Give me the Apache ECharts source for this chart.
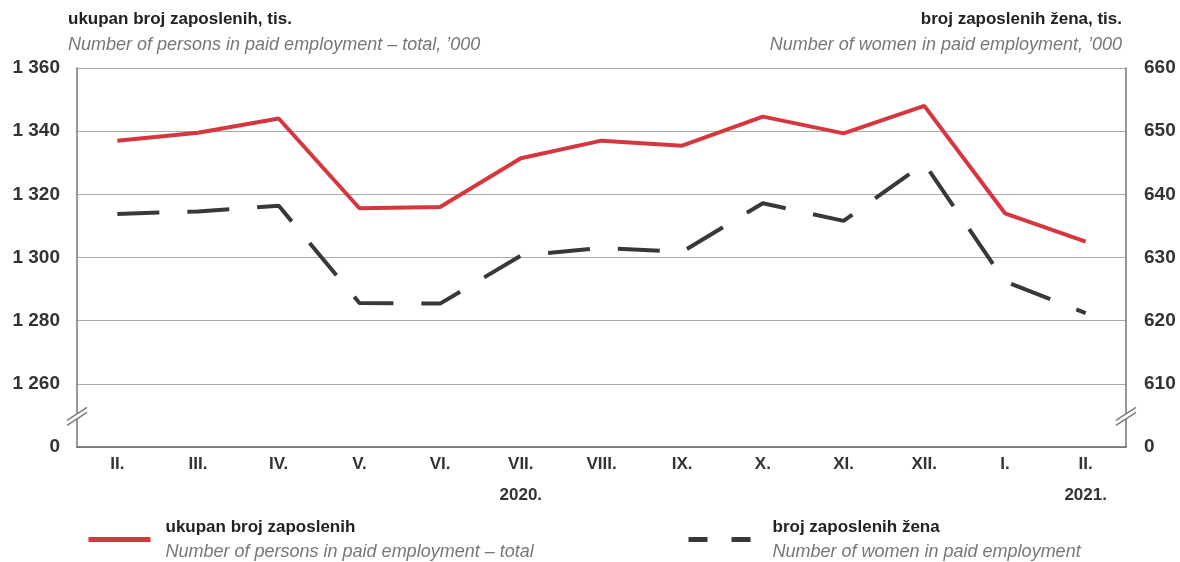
<!DOCTYPE html>
<html><head><meta charset="utf-8">
<script src="https://cdn.jsdelivr.net/npm/echarts@6/dist/echarts.min.js"></script>
<style>html,body{margin:0;padding:0;background:#fff}#c{width:1180px;height:562px}</style>
</head><body><div id="c"></div>
<script>
const periods = ['2020-02','2020-03','2020-04','2020-05','2020-06','2020-07','2020-08','2020-09','2020-10','2020-11','2020-12','2021-01','2021-02'];
const monthLabels = ['II.','III.','IV.','V.','VI.','VII.','VIII.','IX.','X.','XI.','XII.','I.','II.'];
const yearLabels = ['','','','','','2020.','','','','','','','2021.'];
const totalEmployed = [1337, 1339.5, 1344, 1315.6, 1316, 1331.4, 1337, 1335.4, 1344.6, 1339.3, 1348, 1314, 1305];
const womenEmployed = [636.9, 637.3, 638.2, 622.8, 622.7, 630.3, 631.5, 630.9, 638.6, 635.8, 644.9, 626.2, 621.2];
const leftAxisRange = [1240, 1360, 20];   // lowest step stands for the broken "0"
const rightAxisRange = [600, 660, 10];

const FONT = '"Liberation Sans", Arial, sans-serif';
const fmtThousands = v => String(v).replace(/\B(?=(\d{3})+(?!\d))/g, ' ');

const chart = echarts.init(document.getElementById('c'), null, {renderer: 'canvas'});

const boldTitle = {fontFamily: FONT, fontSize: 17, fontWeight: 'bold', color: '#222'};
const italicTitle = {fontFamily: FONT, fontSize: 18, fontStyle: 'italic', fontWeight: 'normal', color: '#777'};

const option = {
  backgroundColor: '#fff',
  animation: false,
  textStyle: {fontFamily: FONT},
  title: [
    {text: 'ukupan broj zaposlenih, tis.', left: 68, top: 11, padding: 0, textStyle: boldTitle},
    {text: 'Number of persons in paid employment – total, \u2019000', left: 68, top: 36, padding: 0, textStyle: italicTitle},
    {text: 'broj zaposlenih žena, tis.', right: 58, top: 11, padding: 0, textStyle: boldTitle},
    {text: 'Number of women in paid employment, \u2019000', right: 58, top: 36, padding: 0, textStyle: italicTitle}
  ],
  grid: {left: 77, right: 54, top: 68, bottom: 115},
  legend: [
    {
      data: [{name: 'ukupan broj zaposlenih', itemStyle: {opacity: 0}, lineStyle: {width: 5}}],
      left: 86, top: 519, itemWidth: 62, itemHeight: 14, padding: 0,
      formatter: n => '{a|' + n + '}\n{b|Number of persons in paid employment – total}',
      textStyle: {rich: {
        a: {fontFamily: FONT, fontSize: 17, fontWeight: 'bold', color: '#222', padding: [0,0,0,10], lineHeight: 24},
        b: {fontFamily: FONT, fontSize: 18, fontStyle: 'italic', color: '#777', padding: [0,0,0,10], lineHeight: 24}
      }}
    },
    {
      data: [{name: 'broj zaposlenih žena', itemStyle: {opacity: 0}, lineStyle: {type: [19, 24], width: 5}}],
      left: 686, top: 519, itemWidth: 62, itemHeight: 14, padding: 0,
      formatter: n => '{a|' + n + '}\n{b|Number of women in paid employment}',
      textStyle: {rich: {
        a: {fontFamily: FONT, fontSize: 17, fontWeight: 'bold', color: '#222', padding: [0,0,0,17], lineHeight: 24},
        b: {fontFamily: FONT, fontSize: 18, fontStyle: 'italic', color: '#777', padding: [0,0,0,17], lineHeight: 24}
      }}
    }
  ],
  xAxis: {
    type: 'category',
    data: periods,
    boundaryGap: true,
    axisLine: {lineStyle: {color: '#666', width: 1.5}},
    axisTick: {show: false},
    axisLabel: {
      margin: 2,
      fontFamily: FONT, fontSize: 17, fontWeight: 'bold', color: '#333', lineHeight: 31,
      formatter: (v, i) => monthLabels[i] + (yearLabels[i] ? '\n' + yearLabels[i] : '')
    }
  },
  yAxis: [
    {
      type: 'value', min: leftAxisRange[0], max: leftAxisRange[1], interval: leftAxisRange[2],
      axisLine: {show: true, lineStyle: {color: '#777', width: 1.5}},
      axisTick: {show: false},
      splitLine: {lineStyle: {color: '#aaa', width: 1.2}},
      axisLabel: {
        margin: 17, fontFamily: FONT, fontSize: 19, fontWeight: 'bold', color: '#333',
        formatter: v => v === leftAxisRange[0] ? '0' : fmtThousands(v)
      }
    },
    {
      type: 'value', min: rightAxisRange[0], max: rightAxisRange[1], interval: rightAxisRange[2],
      axisLine: {show: true, lineStyle: {color: '#777', width: 1.5}},
      axisTick: {show: false},
      splitLine: {show: false},
      axisLabel: {
        margin: 18, fontFamily: FONT, fontSize: 19, fontWeight: 'bold', color: '#333',
        formatter: v => v === rightAxisRange[0] ? '0' : String(v)
      }
    }
  ],
  series: [
    {
      name: 'ukupan broj zaposlenih',
      type: 'line', yAxisIndex: 0, data: totalEmployed,
      symbol: 'none',
      lineStyle: {color: '#d6363e', width: 4},
      itemStyle: {color: '#d6363e'},
      z: 3
    },
    {
      name: 'broj zaposlenih žena',
      type: 'line', yAxisIndex: 1, data: womenEmployed,
      symbol: 'none',
      lineStyle: {color: '#383838', width: 4, type: [42, 28]},
      itemStyle: {color: '#383838'},
      z: 2
    }
  ]
};
chart.setOption(option);

function breakMark(x, y) {
  return [
    {type: 'polygon', shape: {points: [[x-10, y+5], [x+10, y-8], [x+10, y-3], [x-10, y+10]]}, style: {fill: '#fff'}, z: 100},
    {type: 'line', shape: {x1: x-10, y1: y+5, x2: x+10, y2: y-8}, style: {stroke: '#777', lineWidth: 1.3}, z: 101},
    {type: 'line', shape: {x1: x-10, y1: y+10, x2: x+10, y2: y-3}, style: {stroke: '#777', lineWidth: 1.3}, z: 101}
  ];
}
const yBreak = chart.convertToPixel({yAxisIndex: 0}, leftAxisRange[0] + leftAxisRange[2] / 2);
const gridLeft = 77, gridRight = chart.getWidth() - 54;
chart.setOption({graphic: breakMark(gridLeft, yBreak).concat(breakMark(gridRight, yBreak))});
</script>
</body></html>
